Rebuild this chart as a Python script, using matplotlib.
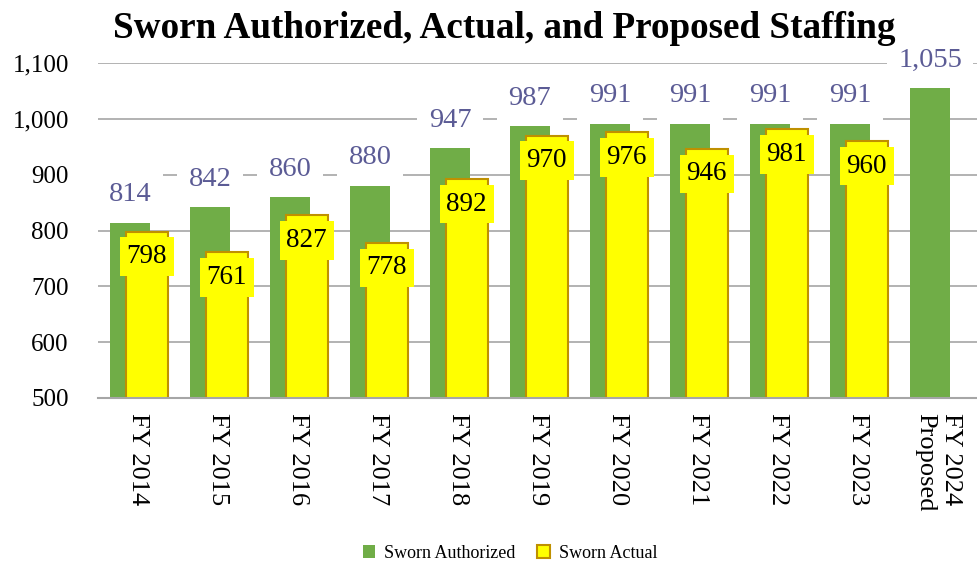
import matplotlib.pyplot as plt
import numpy as np
from matplotlib.patches import Patch

# data
years = ['FY 2014', 'FY 2015', 'FY 2016', 'FY 2017', 'FY 2018', 'FY 2019',
         'FY 2020', 'FY 2021', 'FY 2022', 'FY 2023', 'FY 2024\nProposed']
authorized = [814, 842, 860, 880, 947, 987, 991, 991, 991, 991, 1055]
actual = [798, 761, 827, 778, 892, 970, 976, 946, 981, 960]

green = '#70AD47'
yellow = '#FFFF00'
gold = '#BF9000'
lab_col = '#5B5B95'
serif = ['Liberation Serif', 'DejaVu Serif']

plt.rcParams['font.family'] = serif

fig = plt.figure(figsize=(9.78, 5.66), dpi=100)
ax = fig.add_axes([98 / 978, 168 / 566, 880 / 978, 335 / 566])

x = np.arange(len(years))
xa = x[:len(actual)]

ax.bar(x - 0.1, authorized, width=0.51, bottom=0, color=green, zorder=2)
ax.bar(xa + 0.11, actual, width=0.52, color=yellow, edgecolor=gold,
       linewidth=1.5, zorder=3)

# labels above the authorized bars
for xi, v in zip(x, authorized):
    ax.annotate(f'{v:,}', (xi - 0.1, v), xytext=(0, 28), textcoords='offset pixels',
                ha='center', va='center', fontsize=20.5, color=lab_col, zorder=5,
                bbox=dict(boxstyle='square,pad=0.4', fc='white', ec='none'))

# labels inside the actual bars
for xi, v in zip(xa, actual):
    ax.annotate(f'{v:,}', (xi + 0.11, v), xytext=(0, -25), textcoords='offset pixels',
                ha='center', va='center', fontsize=19.5, color='black', zorder=6,
                bbox=dict(boxstyle='square,pad=0.25', fc=yellow, ec='none'))

ax.set_xlim(-0.5, len(years) - 0.5)
ax.set_ylim(500, 1100)
ax.set_yticks(range(500, 1101, 100))
ax.set_yticklabels([f'{t:,}' for t in range(500, 1101, 100)])
ax.set_xticks(x)
ax.set_xticklabels(years, rotation=270, multialignment='left')

ax.grid(axis='y', color='#A6A6A6', linewidth=1.2, zorder=0)
ax.set_axisbelow(True)
for s in ['left', 'right', 'top']:
    ax.spines[s].set_visible(False)
ax.spines['bottom'].set_color('#A6A6A6')
ax.spines['bottom'].set_linewidth(1.5)
ax.spines['bottom'].set_zorder(4)
ax.tick_params(axis='y', length=0, pad=21, labelsize=18)
ax.tick_params(axis='x', length=0, pad=11, labelsize=19)

fig.text(504 / 978, 1 - 38 / 566, 'Sworn Authorized, Actual, and Proposed Staffing',
         ha='center', va='baseline', fontsize=26.7, fontweight='bold')

handles = [Patch(facecolor=green, edgecolor='none', label='Sworn Authorized'),
           Patch(facecolor=yellow, edgecolor=gold, linewidth=1.5, label='Sworn Actual')]
fig.legend(handles=handles, loc='center', bbox_to_anchor=(510 / 978, 1 - 553 / 566),
           ncol=2, frameon=False, fontsize=13, handlelength=0.7, handleheight=0.7,
           handletextpad=0.5, columnspacing=1.2)

fig.savefig('out.png', dpi=100)
